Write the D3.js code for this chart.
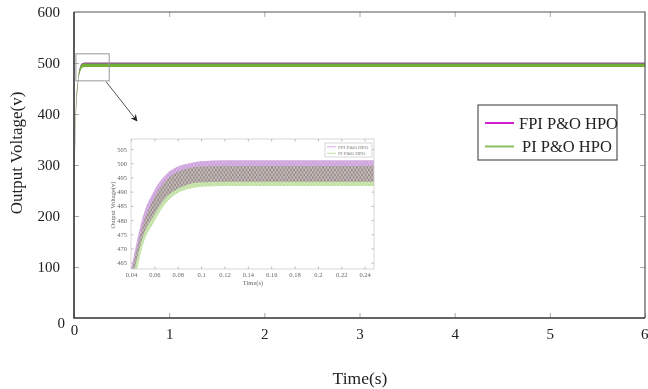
<!DOCTYPE html>
<html>
<head>
<meta charset="utf-8">
<script src="https://cdn.jsdelivr.net/npm/d3@7/dist/d3.min.js"></script>
<style>
  body { margin: 0; background: #fff; }
  svg { display: block; font-family: "Liberation Serif", "Times New Roman", serif; }
</style>
</head>
<body>
<svg id="chart" width="648" height="389"></svg>
<script>
// ripple envelope of the output voltage (s, V)
const time    = [0, 0.01, 0.02, 0.03, 0.04, 0.05, 0.06, 0.07, 0.08, 0.09, 0.10, 0.12, 0.16, 0.20, 0.25, 1, 6];
const fpiHigh = [205, 335, 415, 448, 463, 481, 490.5, 496, 498.8, 500, 500.7, 501, 501, 501, 501, 501, 501];
const fpiLow  = [195, 320, 400, 438, 457, 474, 482, 488, 491, 492.7, 493.3, 493.5, 493.5, 493.5, 493.5, 493.5, 493.5];
const piHigh  = [203, 330, 410, 445, 461, 478, 488, 494, 497, 498.3, 498.8, 499, 499, 499, 499, 499, 499];
const piLow   = [190, 312, 392, 432, 452, 471, 479.5, 486, 489.5, 491, 491.7, 492, 492, 492, 492, 492, 492];

const seriesNames = ['FPI P&O HPO', 'PI P&O HPO'];

const xTicks = [0, 1, 2, 3, 4, 5, 6];
const yTicks = [0, 100, 200, 300, 400, 500, 600];
const insetXTicks = [0.04, 0.06, 0.08, 0.1, 0.12, 0.14, 0.16, 0.18, 0.2, 0.22, 0.24];
const insetYTicks = [465, 470, 475, 480, 485, 490, 495, 500, 505];

// zoomed region marked on the main plot
const zoomT = [0.02, 0.37];
const zoomV = [465, 518];

const svg = d3.select('#chart');

const data = time.map((t, i) => ({
    t: t,
    fpi: [fpiLow[i], fpiHigh[i]],
    pi: [piLow[i], piHigh[i]]
}));

// ---------- main plot ----------
const x = d3.scaleLinear().domain([0, 6]).range([74, 645]);
const y = d3.scaleLinear().domain([0, 600]).range([318, 12]);

const defs = svg.append('defs');
defs.append('clipPath').attr('id', 'mainClip')
    .append('rect')
    .attr('x', x(0)).attr('y', y(600))
    .attr('width', x(6) - x(0)).attr('height', y(0) - y(600));

const tickStyle = g => {
    g.select('.domain').remove();
    g.selectAll('.tick line').attr('stroke', '#aaa');
    g.selectAll('.tick text').attr('fill', '#222').style('font-size', '15px')
        .style('font-family', '"Liberation Serif", "Times New Roman", serif');
};

svg.append('g')
    .attr('transform', `translate(0,${y(0)})`)
    .call(d3.axisBottom(x).tickValues(xTicks).tickSizeInner(-5).tickSizeOuter(0).tickPadding(10).tickFormat(d3.format('d')))
    .call(tickStyle)
    .call(g => g.selectAll('.tick text').filter(d => d === 0).attr('y', 6))
    .call(g => g.selectAll('.tick text').filter(d => d === 6).attr('text-anchor', 'end').attr('x', 3));

svg.append('g')
    .attr('transform', `translate(0,${y(600)})`)
    .call(d3.axisTop(x).tickValues(xTicks.slice(1, -1)).tickSizeInner(-5).tickSizeOuter(0).tickFormat(''))
    .call(tickStyle);

svg.append('g')
    .attr('transform', `translate(${x(0)},0)`)
    .call(d3.axisLeft(y).tickValues(yTicks).tickSizeInner(-5).tickSizeOuter(0).tickPadding(14).tickFormat(d3.format('d')))
    .call(tickStyle)
    .call(g => g.selectAll('.tick line').filter(d => d === 0 || d === 600).remove())
    .call(g => g.selectAll('.tick text').filter(d => d === 0).attr('x', -9).attr('dy', '0.62em'));

svg.append('g')
    .attr('transform', `translate(${x(6)},0)`)
    .call(d3.axisRight(y).tickValues(yTicks.slice(1, -1)).tickSizeInner(-5).tickSizeOuter(0).tickFormat(''))
    .call(tickStyle);

const mainArea = key => d3.area()
    .x(d => x(d.t))
    .y0(d => y(d[key][0]))
    .y1(d => y(d[key][1]))
    .curve(d3.curveMonotoneX);

const mainG = svg.append('g').attr('clip-path', 'url(#mainClip)');
mainG.append('path').datum(data).attr('d', mainArea('fpi')).attr('fill', '#9440ac');
mainG.append('path').datum(data).attr('d', mainArea('pi')).attr('fill', '#70b034');

// frame
svg.append('path')
    .attr('d', `M${x(0)},${y(600)}H${x(6)}V${y(0)}`)
    .attr('fill', 'none').attr('stroke', '#555').attr('stroke-width', 1.2);
svg.append('path')
    .attr('d', `M${x(0)},${y(600)}V${y(0)}H${x(6)}`)
    .attr('fill', 'none').attr('stroke', '#333').attr('stroke-width', 1.6);

// zoom marker and arrow
svg.append('rect')
    .attr('x', x(zoomT[0])).attr('y', y(zoomV[1]))
    .attr('width', x(zoomT[1]) - x(zoomT[0])).attr('height', y(zoomV[0]) - y(zoomV[1]))
    .attr('fill', 'none').attr('stroke', '#999').attr('stroke-width', 1);

defs.append('marker').attr('id', 'arrow')
    .attr('viewBox', '0 0 10 10').attr('refX', 9).attr('refY', 5)
    .attr('markerWidth', 7).attr('markerHeight', 7).attr('orient', 'auto')
    .append('path').attr('d', 'M0,0L10,5L0,10L3,5Z').attr('fill', '#222');

svg.append('line')
    .attr('x1', x(zoomT[1]) - 3).attr('y1', y(zoomV[0]) + 1)
    .attr('x2', 137).attr('y2', 121)
    .attr('stroke', '#555').attr('stroke-width', 1)
    .attr('marker-end', 'url(#arrow)');

// axis titles
svg.append('text')
    .attr('x', 360).attr('y', 384)
    .attr('text-anchor', 'middle')
    .style('font-size', '17.5px').attr('fill', '#222')
    .text('Time(s)');

svg.append('text')
    .attr('transform', 'translate(22,153) rotate(-90)')
    .attr('text-anchor', 'middle')
    .style('font-size', '17px').attr('fill', '#222')
    .text('Output Voltage(v)');

// legend
const legendColors = ['#d020d0', '#88c060'];
const leg = svg.append('g').attr('transform', 'translate(478,105)');
leg.append('rect').attr('width', 139).attr('height', 55)
    .attr('fill', '#fff').attr('stroke', '#333').attr('stroke-width', 1);
seriesNames.forEach((name, i) => {
    const yy = 18 + i * 23.5;
    leg.append('line').attr('x1', 7).attr('x2', 36).attr('y1', yy).attr('y2', yy)
        .attr('stroke', legendColors[i]).attr('stroke-width', 2);
    leg.append('text').attr('x', i === 0 ? 41 : 44).attr('y', yy + 5.5)
        .style('font-size', '16.5px').attr('fill', '#222').text(name);
});

// ---------- inset ----------
const ix = d3.scaleLinear().domain([0.04, 0.248]).range([131, 374]);
const iy = d3.scaleLinear().domain([462.8, 508.5]).range([269, 139]);

defs.append('clipPath').attr('id', 'insetClip')
    .append('rect')
    .attr('x', ix.range()[0]).attr('y', iy.range()[1])
    .attr('width', ix.range()[1] - ix.range()[0]).attr('height', iy.range()[0] - iy.range()[1]);

// ripple texture
const pat = defs.append('pattern').attr('id', 'ripple')
    .attr('patternUnits', 'userSpaceOnUse').attr('width', 3.4).attr('height', 5);
pat.append('path').attr('d', 'M0,0L3.4,5M3.4,0L0,5')
    .attr('stroke', '#fff').attr('stroke-width', 0.6).attr('stroke-opacity', 0.4);

const insetStyle = g => {
    g.select('.domain').remove();
    g.selectAll('.tick line').attr('stroke', '#bbb');
    g.selectAll('.tick text').attr('fill', '#666').style('font-size', '6.5px')
        .style('font-family', '"Liberation Serif", "Times New Roman", serif');
};

const fmt = d => String(+d.toFixed(2));

svg.append('g')
    .attr('transform', `translate(0,${iy.range()[0]})`)
    .call(d3.axisBottom(ix).tickValues(insetXTicks).tickSizeInner(-2.5).tickSizeOuter(0).tickPadding(3).tickFormat(fmt))
    .call(insetStyle);
svg.append('g')
    .attr('transform', `translate(0,${iy.range()[1]})`)
    .call(d3.axisTop(ix).tickValues(insetXTicks).tickSizeInner(-2.5).tickSizeOuter(0).tickFormat(''))
    .call(insetStyle);
svg.append('g')
    .attr('transform', `translate(${ix.range()[0]},0)`)
    .call(d3.axisLeft(iy).tickValues(insetYTicks).tickSizeInner(-2.5).tickSizeOuter(0).tickPadding(4))
    .call(insetStyle);
svg.append('g')
    .attr('transform', `translate(${ix.range()[1]},0)`)
    .call(d3.axisRight(iy).tickValues(insetYTicks).tickSizeInner(-2.5).tickSizeOuter(0).tickFormat(''))
    .call(insetStyle);

const insetArea = key => d3.area()
    .x(d => ix(d.t))
    .y0(d => iy(d[key][0]))
    .y1(d => iy(d[key][1]))
    .curve(d3.curveMonotoneX);

const insetG = svg.append('g').attr('clip-path', 'url(#insetClip)');
insetG.append('path').datum(data).attr('d', insetArea('fpi'))
    .attr('fill', '#cc9edb').style('mix-blend-mode', 'multiply');
insetG.append('path').datum(data).attr('d', insetArea('pi'))
    .attr('fill', '#bfe0a0').style('mix-blend-mode', 'multiply');
insetG.append('path').datum(data).attr('d', insetArea('fpi')).attr('fill', 'url(#ripple)');
insetG.append('path').datum(data).attr('d', insetArea('pi')).attr('fill', 'url(#ripple)');

svg.append('rect')
    .attr('x', ix.range()[0]).attr('y', iy.range()[1])
    .attr('width', ix.range()[1] - ix.range()[0]).attr('height', iy.range()[0] - iy.range()[1])
    .attr('fill', 'none').attr('stroke', '#ccc').attr('stroke-width', 0.8);

svg.append('text')
    .attr('x', 253).attr('y', 285)
    .attr('text-anchor', 'middle')
    .style('font-size', '6.5px').attr('fill', '#666')
    .text('Time(s)');
svg.append('text')
    .attr('transform', 'translate(115,205) rotate(-90)')
    .attr('text-anchor', 'middle')
    .style('font-size', '6.5px').attr('fill', '#666')
    .text('Output Voltage(v)');

// inset legend
const insetColors = ['#c896d8', '#afd98c'];
const ileg = svg.append('g').attr('transform', 'translate(325,143)');
ileg.append('rect').attr('width', 47).attr('height', 14)
    .attr('fill', '#fff').attr('stroke', '#bbb').attr('stroke-width', 0.6);
seriesNames.forEach((name, i) => {
    const yy = 3.8 + i * 6.5;
    ileg.append('line').attr('x1', 2).attr('x2', 11).attr('y1', yy).attr('y2', yy)
        .attr('stroke', insetColors[i]).attr('stroke-width', 0.8);
    ileg.append('text').attr('x', 13).attr('y', yy + 1.8)
        .style('font-size', '5px').attr('fill', '#777').text(name);
});
</script>
</body>
</html>
